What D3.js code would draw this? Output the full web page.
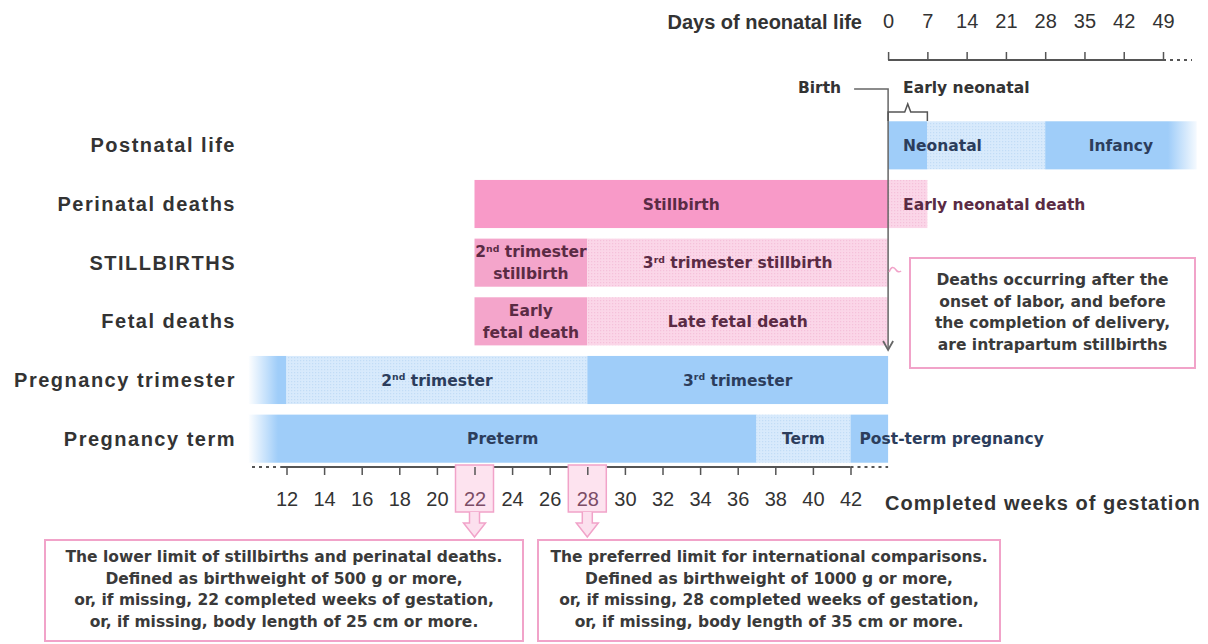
<!DOCTYPE html>
<html><head><meta charset="utf-8">
<script src="https://cdn.jsdelivr.net/npm/d3@7"></script>
<style>
body{margin:0;background:#fff;}
svg{display:block;}
</style></head>
<body><svg id="chart" width="1208" height="644"></svg>
<script>
// ---------- data ----------
const rowNames = ["Postnatal life","Perinatal deaths","STILLBIRTHS","Fetal deaths","Pregnancy trimester","Pregnancy term"];
const weekTicks = [12,14,16,18,20,22,24,26,28,30,32,34,36,38,40,42];
const dayTicks = [0,7,14,21,28,35,42,49];
const highlightWeeks = [22,28];
const birthWeek = 44;

const postnatalSegments = [
  {unit:"day", from:0,  to:7,  shade:"blue",      label:"Neonatal"},
  {unit:"day", from:7,  to:28, shade:"blueLight", label:""},
  {unit:"day", from:28, to:55, shade:"blue",      label:"Infancy"}
];
const perinatalSegments = [
  {unit:"week", from:22, to:44, shade:"pink",      label:"Stillbirth"},
  {unit:"day",  from:0,  to:7,  shade:"pinkLight", label:"Early neonatal death"}
];
const stillbirthSegments = [
  {unit:"week", from:22, to:28, shade:"pinkMid",   label:"2nd trimester|stillbirth"},
  {unit:"week", from:28, to:44, shade:"pinkLight", label:"3rd trimester stillbirth"}
];
const fetalSegments = [
  {unit:"week", from:22, to:28, shade:"pinkMid",   label:"Early|fetal death"},
  {unit:"week", from:28, to:44, shade:"pinkLight", label:"Late fetal death"}
];
const trimesterSegments = [
  {unit:"week", from:10, to:12, shade:"blue",      label:""},
  {unit:"week", from:12, to:28, shade:"blueLight", label:"2nd trimester"},
  {unit:"week", from:28, to:44, shade:"blue",      label:"3rd trimester"}
];
const termSegments = [
  {unit:"week", from:10, to:37, shade:"blue",      label:"Preterm"},
  {unit:"week", from:37, to:42, shade:"blueLight", label:"Term"},
  {unit:"week", from:42, to:44, shade:"blue",      label:"Post-term pregnancy"}
];
const rowSegments = [postnatalSegments, perinatalSegments, stillbirthSegments, fetalSegments, trimesterSegments, termSegments];

const noteIntrapartum = ["Deaths occurring after the","onset of labor, and before","the completion of delivery,","are intrapartum stillbirths"];
const note22 = ["The lower limit of stillbirths and perinatal deaths.","Defined as birthweight of 500 g or more,","or, if missing, 22 completed weeks of gestation,","or, if missing, body length of 25 cm or more."];
const note28 = ["The preferred limit for international comparisons.","Defined as birthweight of 1000 g or more,","or, if missing, 28 completed weeks of gestation,","or, if missing, body length of 35 cm or more."];

// ---------- setup ----------
const svg = d3.select("#chart");
const LABEL_FONT = "'Liberation Sans', Arial, sans-serif";
const BODY_FONT = "'DejaVu Sans', Verdana, sans-serif";
const PINK_STROKE = "#f1a3c9";

const xw = d3.scaleLinear().domain([12,42]).range([286.5,850.5]);
const xd = d3.scaleLinear().domain([0,49]).range([xw(birthWeek), 1163]);
const y = d3.scaleBand().domain(rowNames).range([116,468]).paddingInner(0.18).paddingOuter(0.09);
const xOf = (unit, v) => unit === "day" ? xd(v) : xw(v);

const defs = svg.append("defs");
function dotPattern(id, base, dot){
  const p = defs.append("pattern").attr("id", id).attr("width",3).attr("height",3).attr("patternUnits","userSpaceOnUse");
  p.append("rect").attr("width",3).attr("height",3).attr("fill",base);
  p.append("rect").attr("width",1.2).attr("height",1.2).attr("fill",dot);
}
dotPattern("dotsBlue", "#d8eafc", "#c2dcf6");
dotPattern("dotsPink", "#fbd6e8", "#f5c1da");
function fade(id, dir){
  const g = defs.append("linearGradient").attr("id", id).attr("x1",0).attr("x2",1).attr("y1",0).attr("y2",0);
  g.append("stop").attr("offset","0%").attr("stop-color","#fff").attr("stop-opacity", dir === "left" ? 1 : 0);
  g.append("stop").attr("offset","100%").attr("stop-color","#fff").attr("stop-opacity", dir === "left" ? 0 : 1);
}
fade("fadeLeft","left");
fade("fadeRight","right");

const fills = {blue:"#9fcdf9", blueLight:"url(#dotsBlue)", pink:"#f89ac8", pinkMid:"#f4a5cb", pinkLight:"url(#dotsPink)"};
const textColor = {blue:"#2c3d5c", blueLight:"#2c3d5c", pink:"#5a2b44", pinkMid:"#5a2b44", pinkLight:"#5a2b44"};
const startAligned = {"Neonatal":15, "Early neonatal death":15, "Post-term pregnancy":9};

// write text with superscript ordinal suffixes
function richText(sel, str){
  const re = /(\d)(st|nd|rd|th)\b/g;
  let last = 0, m, pendingDy = null;
  while ((m = re.exec(str)) !== null){
    const before = str.slice(last, m.index + 1);
    const t = sel.append("tspan").text(before);
    if (pendingDy) t.attr("dy", pendingDy);
    sel.append("tspan").attr("font-size","0.6em").attr("dy","-0.55em").text(m[2]);
    pendingDy = "0.33em";
    last = m.index + m[0].length;
  }
  const rest = sel.append("tspan").text(str.slice(last));
  if (pendingDy) rest.attr("dy", pendingDy);
}

// ---------- row labels ----------
svg.append("g").selectAll("text").data(rowNames).join("text")
  .attr("x", 236).attr("y", d => y(d) + y.bandwidth()/2)
  .attr("dy","0.35em").attr("text-anchor","end")
  .attr("font-family", LABEL_FONT).attr("font-weight","bold").attr("font-size", 20)
  .attr("letter-spacing", 1.5).attr("fill","#333")
  .text(d => d);

// ---------- bars ----------
const barsG = svg.append("g");
rowSegments.forEach((segs, i) => {
  const row = rowNames[i];
  const y0 = y(row), h = y.bandwidth();
  barsG.append("g").selectAll("rect").data(segs).join("rect")
    .attr("x", d => xOf(d.unit, d.from))
    .attr("width", d => xOf(d.unit, d.to) - xOf(d.unit, d.from))
    .attr("y", y0).attr("height", h)
    .attr("fill", d => fills[d.shade]);
});
// fades
svg.append("rect").attr("x", 248).attr("y", y("Pregnancy trimester")-2).attr("width", 30)
  .attr("height", y("Pregnancy term") + y.bandwidth() - y("Pregnancy trimester") + 4).attr("fill","url(#fadeLeft)");
svg.append("rect").attr("x", 1168).attr("y", y("Postnatal life")-1).attr("width", 32)
  .attr("height", y.bandwidth()+2).attr("fill","url(#fadeRight)");

// bar labels
const labelsG = svg.append("g").attr("font-family", BODY_FONT).attr("font-weight","bold").attr("font-size", 15.5);
rowSegments.forEach((segs, i) => {
  const row = rowNames[i];
  const cy = y(row) + y.bandwidth()/2;
  segs.filter(d => d.label).forEach(d => {
    const x0 = xOf(d.unit, d.from), x1 = xOf(d.unit, d.to);
    const off = startAligned[d.label];
    const lines = d.label.split("|");
    lines.forEach((ln, k) => {
      const t = labelsG.append("text")
        .attr("x", off !== undefined ? x0 + off : (x0 + x1)/2)
        .attr("y", cy + (k - (lines.length-1)/2) * 22)
        .attr("dy","0.36em")
        .attr("text-anchor", off !== undefined ? "start" : "middle")
        .attr("fill", textColor[d.shade]);
      richText(t, ln);
    });
  });
});

// ---------- bottom axis ----------
const axisY = 467;
const axG = svg.append("g");
axG.append("line").attr("x1", xw(12)-6).attr("x2", xw(42)).attr("y1", axisY).attr("y2", axisY)
  .attr("stroke","#555").attr("stroke-width",2);
axG.append("line").attr("x1", 252).attr("x2", xw(12)-6).attr("y1", axisY).attr("y2", axisY)
  .attr("stroke","#555").attr("stroke-width",2).attr("stroke-dasharray","3,4");
axG.append("line").attr("x1", xw(42)).attr("x2", xw(birthWeek)).attr("y1", axisY).attr("y2", axisY)
  .attr("stroke","#555").attr("stroke-width",2).attr("stroke-dasharray","3,4");

// highlight boxes for 22 and 28
const hlG = svg.append("g");
highlightWeeks.forEach(w => {
  const cx = xw(w);
  hlG.append("rect").attr("x", cx-19).attr("y", axisY-2).attr("width", 38).attr("height", 47)
    .attr("fill","#fde3ef").attr("stroke", PINK_STROKE).attr("stroke-width",1.5);
  hlG.append("path")
    .attr("d", `M${cx-5},${axisY+45} V${axisY+56} H${cx-11} L${cx},${axisY+70} L${cx+11},${axisY+56} H${cx+5} V${axisY+45}`)
    .attr("fill","#fce0ee").attr("stroke", PINK_STROKE).attr("stroke-width",1.5);
});

const xAxis = d3.axisBottom(xw).tickValues(weekTicks).tickSize(8).tickPadding(17).tickFormat(d3.format("d"));
const xg = svg.append("g").attr("transform", `translate(0,${axisY})`).call(xAxis);
xg.select(".domain").remove();
xg.selectAll(".tick line").attr("stroke","#555").attr("stroke-width",1.5);
xg.selectAll(".tick text").attr("font-family", LABEL_FONT).attr("font-size",20)
  .attr("fill", d => highlightWeeks.includes(d) ? "#7b4d66" : "#333");

svg.append("text").attr("x", 885).attr("y", 503).attr("dy","0.35em")
  .attr("font-family", LABEL_FONT).attr("font-weight","bold").attr("font-size",20)
  .attr("letter-spacing",1).attr("fill","#333").text("Completed weeks of gestation");

// ---------- top axis ----------
const topY = 60;
const dAxis = d3.axisTop(xd).tickValues(dayTicks).tickSize(8).tickPadding(24).tickFormat(d3.format("d"));
const dg = svg.append("g").attr("transform", `translate(0,${topY})`).call(dAxis);
dg.select(".domain").remove();
dg.selectAll(".tick line").attr("stroke","#555").attr("stroke-width",1.5);
dg.selectAll(".tick text").attr("font-family", LABEL_FONT).attr("font-size",20).attr("fill","#333");
svg.append("line").attr("x1", xd(0)).attr("x2", xd(49)).attr("y1", topY).attr("y2", topY)
  .attr("stroke","#555").attr("stroke-width",2);
svg.append("line").attr("x1", xd(49)).attr("x2", 1192).attr("y1", topY).attr("y2", topY)
  .attr("stroke","#555").attr("stroke-width",2).attr("stroke-dasharray","3,4");
svg.append("text").attr("x", 862).attr("y", 22).attr("dy","0.35em").attr("text-anchor","end")
  .attr("font-family", LABEL_FONT).attr("font-weight","bold").attr("font-size",20)
  .attr("fill","#333").text("Days of neonatal life");

// ---------- birth marker & early neonatal bracket ----------
const bx = xd(0);
svg.append("path").attr("d", `M${bx-34},89 H${bx} V349`).attr("fill","none").attr("stroke","#666").attr("stroke-width",1.5);
svg.append("path").attr("d", `M${bx-5},341 L${bx},350 L${bx+5},341`).attr("fill","none").attr("stroke","#666").attr("stroke-width",1.8);
svg.append("text").attr("x", bx-47).attr("y", 88).attr("dy","0.35em").attr("text-anchor","end")
  .attr("font-family", BODY_FONT).attr("font-weight","bold").attr("font-size",15.5).attr("fill","#333").text("Birth");
const b0 = xd(0), b7 = xd(7), bm = (b0+b7)/2;
svg.append("path").attr("d", `M${b0},121 V112 H${bm-3} L${bm},104 L${bm+3},112 H${b7} V121`)
  .attr("fill","none").attr("stroke","#555").attr("stroke-width",1.5);
svg.append("text").attr("x", b0+15).attr("y", 88).attr("dy","0.35em")
  .attr("font-family", BODY_FONT).attr("font-weight","bold").attr("font-size",15.5).attr("fill","#333").text("Early neonatal");

// ---------- notes ----------
function noteBox(x, yTop, w, h, lines, lineY0){
  svg.append("rect").attr("x", x).attr("y", yTop).attr("width", w).attr("height", h)
    .attr("fill","#fff").attr("stroke", PINK_STROKE).attr("stroke-width",2);
  svg.append("g").selectAll("text").data(lines).join("text")
    .attr("x", x + w/2).attr("y", (d,i) => lineY0 + i*21.5).attr("dy","0.35em")
    .attr("text-anchor","middle").attr("font-family", BODY_FONT).attr("font-weight","bold")
    .attr("font-size",15.5).attr("fill","#3a3a3a").text(d => d);
}
noteBox(910, 258, 285, 110, noteIntrapartum, 280);
svg.append("path").attr("d", `M${bx+1},272 Q${bx+4},264 ${bx+8},270 Q${bx+10},273 ${bx+13},271`)
  .attr("fill","none").attr("stroke", PINK_STROKE).attr("stroke-width",1.5);
noteBox(45, 540, 478, 101, note22, 557);
noteBox(538, 540, 462, 101, note28, 557);
</script>
</body></html>
